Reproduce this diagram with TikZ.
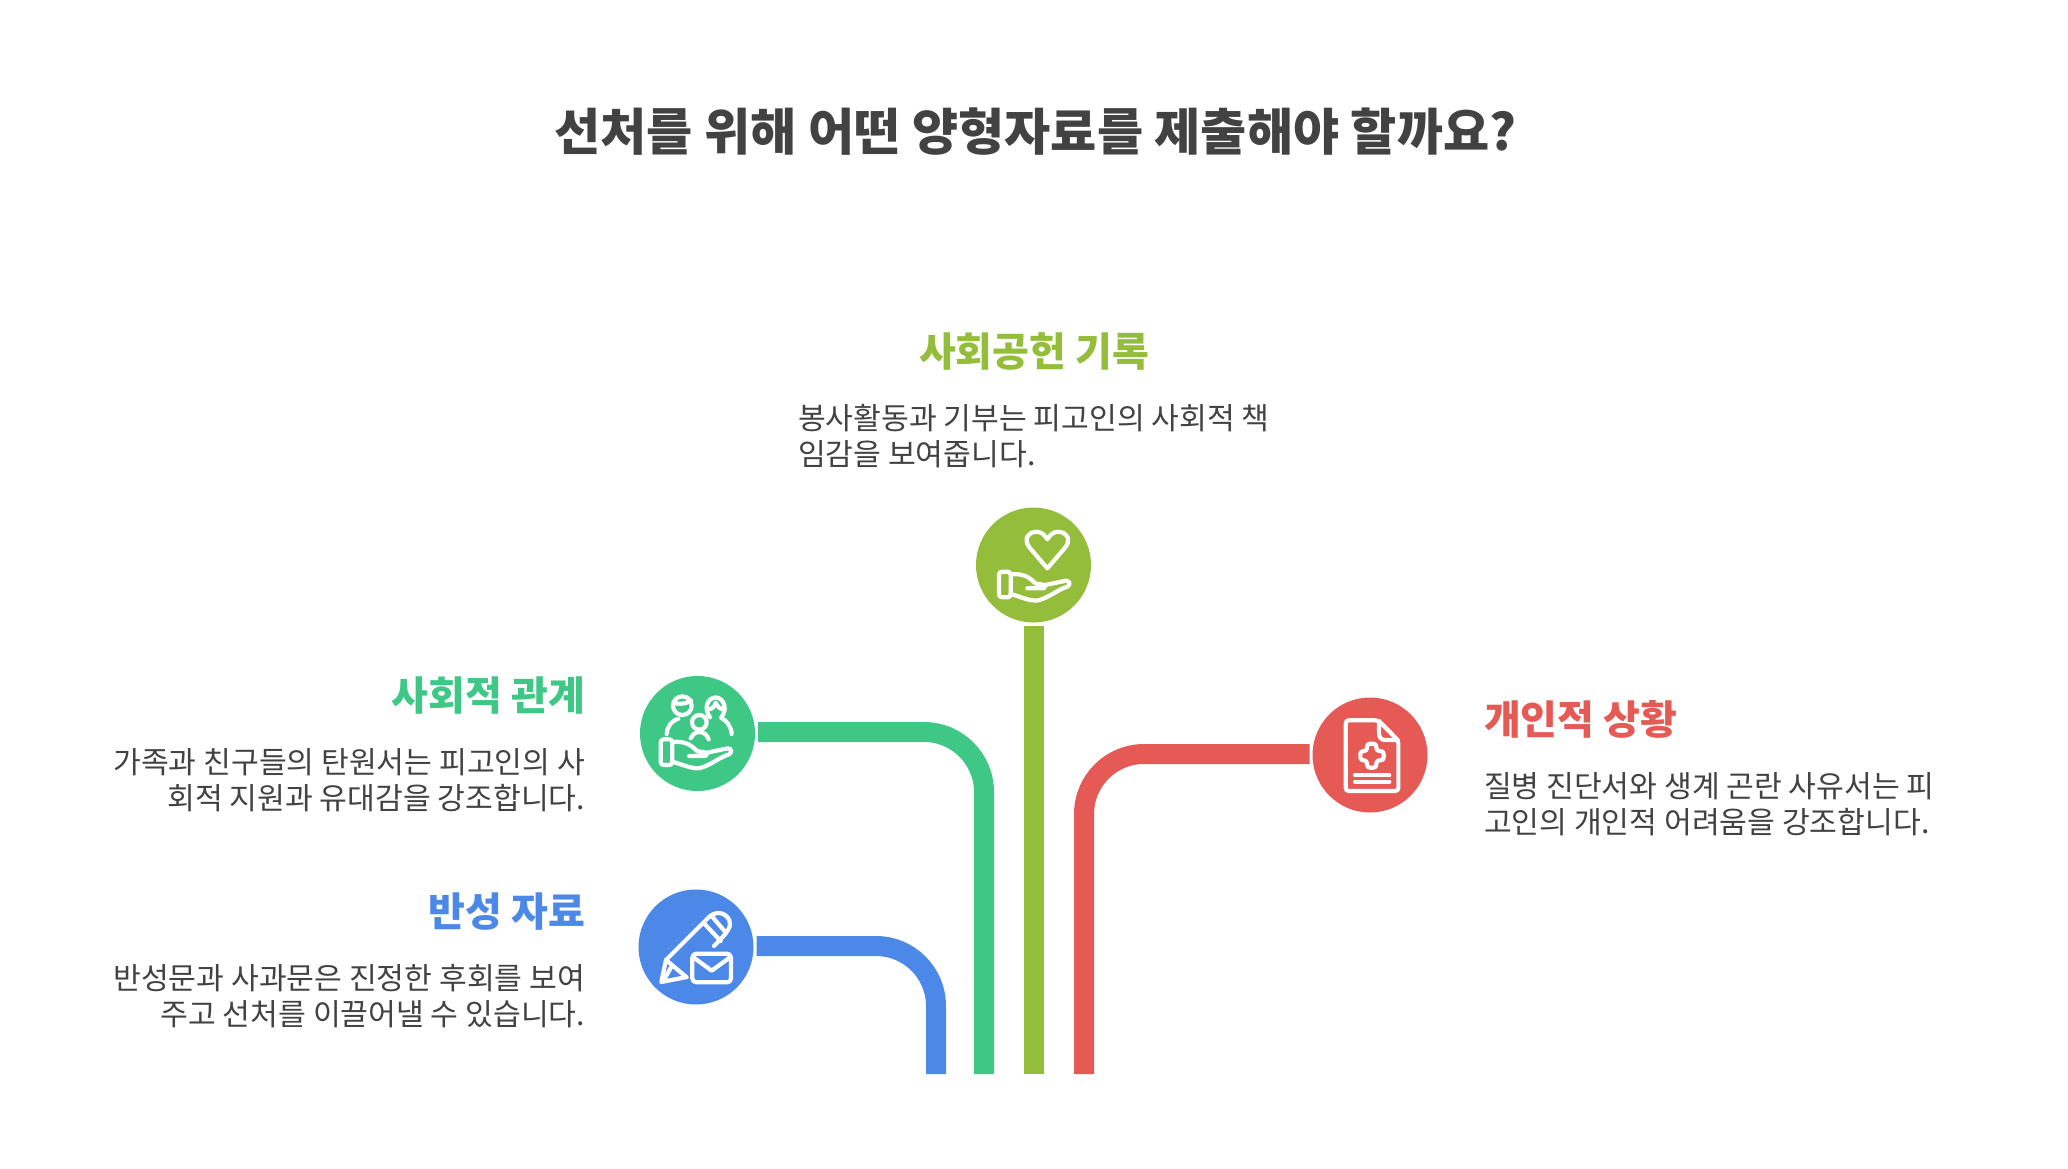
\documentclass[tikz,border=0pt]{standalone}
\usepackage{fontspec}
\setmainfont{Noto Sans CJK KR}
\definecolor{cblue}{HTML}{4C88E8}
\definecolor{cgreen}{HTML}{3EC785}
\definecolor{colive}{HTML}{94BD3B}
\definecolor{cred}{HTML}{E55A55}
\definecolor{ctext}{HTML}{424242}
\newcommand{\handicon}{%
  \draw[rounded corners=3pt] (117,245) rectangle (152,322);
  \draw (152,253) .. controls (185,250) and (205,258) .. (226,280)
        .. controls (235,283) and (250,282) .. (256,287)
        .. controls (258,294) and (250,296) .. (240,295) -- (202,295);
  \draw (256,285) -- (318,272) .. controls (330,272) and (332,285) .. (322,290)
        .. controls (290,300) and (265,325) .. (230,332)
        .. controls (205,332) and (180,320) .. (152,312);
}
\tikzset{
  every node/.style={inner sep=0pt,outer sep=0pt},
  disc/.style={circle,minimum size=115pt,outer sep=3pt},
  conn/.style={line width=20pt,line cap=butt,rounded corners=60pt},
  icon/.style={draw=white,line width=4.2pt,line join=round,line cap=round,x=0.33333pt,y=-0.33333pt},
  head/.style={font=\fontsize{40}{48}\bfseries\selectfont},
  body/.style={font=\fontsize{30.2}{36}\selectfont,text=ctext},
}
\begin{document}
\begin{tikzpicture}[x=1pt,y=-1pt]
\useasboundingbox (0,0) rectangle (2068,1169);
\fill[white] (0,0) rectangle (2068,1169);

\node[font=\fontsize{50.2}{60}\bfseries\selectfont,text=ctext] (title) at (1035.5,132) {선처를 위해 어떤 양형자료를 제출해야 할까요?};

\node[head,text=colive] (h1) at (1034,351) {사회공헌 기록};
\node[body,anchor=west,align=left] (b1) at (798,436) {봉사활동과 기부는 피고인의 사회적 책\\임감을 보여줍니다.};
\node[head,text=cgreen,anchor=east] (h2) at (585,696) {사회적 관계};
\node[body,anchor=east,align=right] (b2) at (585,780) {가족과 친구들의 탄원서는 피고인의 사\\회적 지원과 유대감을 강조합니다.};
\node[head,text=cblue,anchor=east] (h3) at (585,912) {반성 자료};
\node[body,anchor=east,align=right] (b3) at (585,996) {반성문과 사과문은 진정한 후회를 보여\\주고 선처를 이끌어낼 수 있습니다.};
\node[head,text=cred,anchor=west] (h4) at (1484,719) {개인적 상황};
\node[body,anchor=west,align=left] (b4) at (1484,804) {질병 진단서와 생계 곤란 사유서는 피\\고인의 개인적 어려움을 강조합니다.};

\node[disc,fill=colive] (co) at (1033.5,565) {};
\node[disc,fill=cgreen] (cg) at (697.5,733.5) {};
\node[disc,fill=cblue] (cb) at (696,947) {};
\node[disc,fill=cred] (cr) at (1370,755) {};
\coordinate (eo) at (1034,1074);
\coordinate (eg) at (984,1074);
\coordinate (eb) at (936,1074);
\coordinate (er) at (1084,1074);

\draw[conn,draw=cblue] (cb.east) ++(0,-1) -| (eb);
\draw[conn,draw=cgreen] (cg.east) ++(0,-1.5) -| (eg);
\draw[conn,draw=colive] (co.south) ++(0.5,0) -- (eo);
\draw[conn,draw=cred] (cr.west) ++(0,-1) -| (er);

% olive: hand and heart
\begin{scope}[shift={(960,490)},icon]
  \handicon
  \draw (262,235) -- (208,172) .. controls (188,145) and (208,125) .. (228,125)
        .. controls (243,125) and (255,135) .. (262,148)
        .. controls (269,135) and (281,125) .. (296,125)
        .. controls (316,125) and (336,145) .. (316,172) -- cycle;
\end{scope}
% green: hand and family
\begin{scope}[shift={(630,660)},icon]
  \begin{scope}[shift={(-25,-7)}] \handicon \end{scope}
  \draw (157,137) circle[radius=28];
  \draw (131,127) .. controls (145,135) and (165,132) .. (183,122);
  \draw (110,222) .. controls (112,198) and (125,182) .. (145,176);
  \draw (240,172) .. controls (222,150) and (228,115) .. (257,112)
        .. controls (285,115) and (292,150) .. (274,172);
  \draw (232,148) .. controls (245,150) and (255,138) .. (257,128)
        .. controls (260,138) and (272,150) .. (284,148);
  \draw (274,174) .. controls (290,182) and (303,198) .. (305,222);
  \draw (208,187) circle[radius=22];
  \draw (182,235) .. controls (188,222) and (198,216) .. (208,216)
        .. controls (220,216) and (230,222) .. (236,238);
\end{scope}
% blue: pencil and envelope
\begin{scope}[shift={(630,880)},icon]
  \draw (108,240) -- (94,306) -- (165,292);
  \draw (108,240) -- (235,113) .. controls (255,92) and (285,95) .. (298,120)
        .. controls (305,140) and (295,155) .. (252,198);
  \draw (222,130) -- (272,183);
  \draw (245,108) -- (285,155);
  \draw (108,240) -- (170,292);
  \draw (123,262) -- (102,300);
  \draw[rounded corners=4pt] (187,221) rectangle (303,307);
  \draw (190,232) -- (245,272) -- (300,232);
\end{scope}
% red: document
\begin{scope}[shift={(1300,690)},icon]
  \draw[rounded corners=3pt] (235,91) -- (137,91) -- (137,303) -- (295,303) -- (295,152) -- cycle;
  \draw (237,93) -- (237,130) .. controls (237,143) and (245,150) .. (255,150) -- (293,150);
  \draw[rounded corners=3pt] (201,161) -- (229,161) -- (229,183) -- (251,183) -- (251,211) -- (229,211) -- (229,233) -- (201,233) -- (201,211) -- (181,211) -- (181,183) -- (201,183) -- cycle;
  \draw (165,256) -- (268,256);
  \draw (165,275) -- (268,275);
\end{scope}
\end{tikzpicture}
\end{document}
